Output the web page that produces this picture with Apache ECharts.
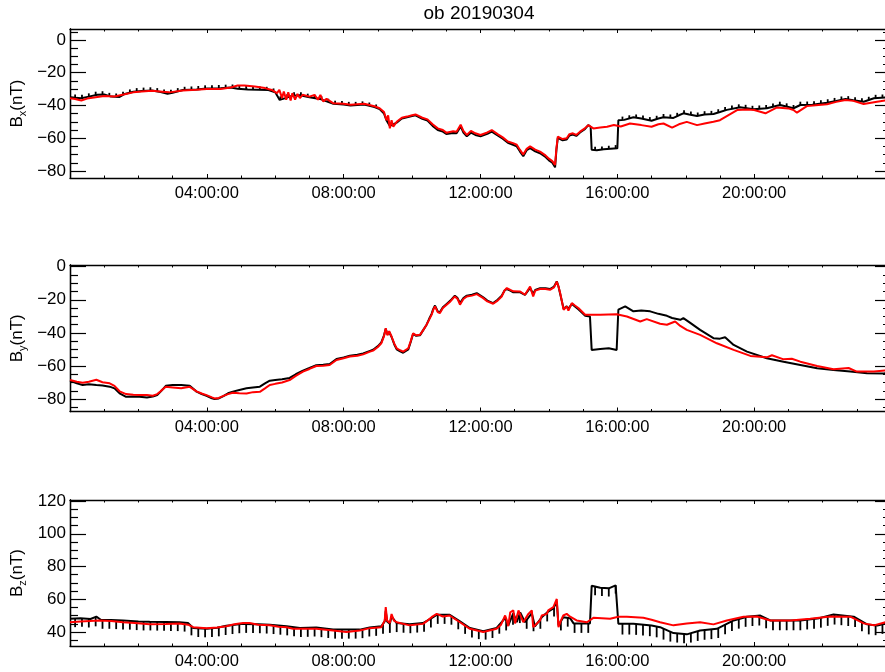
<!DOCTYPE html>
<html>
<head>
<meta charset="utf-8">
<script src="https://cdn.jsdelivr.net/npm/echarts@6/dist/echarts.min.js"></script>
<style>
html, body { margin: 0; padding: 0; background: #fff; }
#chart { width: 885px; height: 672px; }
</style>
</head>
<body>
<div id="chart"></div>
<script>
// Magnetic field components over one day (hour of day, nT)
const plotTitle = 'ob 20190304';

const bxTicks = [-80, -60, -40, -20, 0];
const byTicks = [-80, -60, -40, -20, 0];
const bzTicks = [40, 60, 80, 100, 120];
const hourTicks = [4, 8, 12, 16, 20];

const bxBlack = [[0,-35.0],[0.15,-35.3],[0.33,-35.6],[0.55,-34.6],[0.8,-33.4],[1.0,-33.3],[1.2,-34.6],[1.45,-34.8],[1.6,-33.0],[1.85,-31.6],[2.1,-31.2],[2.4,-30.8],[2.65,-31.8],[2.85,-32.8],[3.0,-32.2],[3.3,-30.6],[3.7,-30.2],[4.0,-29.6],[4.4,-29.5],[4.7,-29.0],[4.9,-29.8],[5.2,-30.2],[5.5,-30.4],[5.8,-30.6],[6.0,-32.0],[6.13,-36.6],[6.3,-35.5],[6.5,-34.0],[6.72,-33.8],[7.0,-35.0],[7.3,-36.0],[7.5,-37.5],[7.7,-39.0],[8.0,-39.4],[8.2,-40.0],[8.6,-39.4],[8.9,-41.0],[9.05,-42.2],[9.18,-45.0],[9.25,-49.0],[9.35,-52.5],[9.45,-51.5],[9.55,-50.5],[9.7,-48.0],[9.85,-47.2],[10.0,-46.5],[10.1,-46.0],[10.3,-48.2],[10.45,-49.2],[10.6,-52.5],[10.75,-55.0],[10.9,-56.0],[11.0,-57.4],[11.2,-56.8],[11.3,-57.0],[11.42,-52.8],[11.5,-56.5],[11.6,-58.8],[11.72,-56.6],[11.85,-58.0],[12.0,-58.8],[12.2,-57.3],[12.33,-56.0],[12.5,-58.3],[12.65,-60.3],[12.8,-62.8],[12.95,-64.0],[13.06,-65.0],[13.15,-68.0],[13.25,-71.0],[13.35,-67.3],[13.45,-66.0],[13.6,-68.0],[13.74,-69.2],[13.9,-71.5],[14.0,-73.5],[14.1,-75.0],[14.18,-77.8],[14.22,-67.0],[14.26,-59.8],[14.4,-61.3],[14.52,-60.8],[14.6,-58.3],[14.7,-57.8],[14.8,-58.6],[14.91,-56.5],[15.05,-54.5],[15.15,-52.0],[15.22,-53.0],[15.25,-67.0],[15.4,-67.4],[15.6,-66.8],[15.8,-66.5],[16.0,-66.2],[16.03,-49.0],[16.2,-48.8],[16.47,-47.2],[16.7,-48.0],[17.0,-49.3],[17.2,-48.0],[17.35,-47.2],[17.64,-47.6],[17.8,-46.0],[17.93,-44.8],[18.1,-45.5],[18.33,-46.4],[18.55,-45.5],[18.81,-45.2],[19.0,-44.0],[19.2,-42.7],[19.59,-41.1],[19.98,-42.3],[20.37,-41.7],[20.76,-39.7],[21.15,-41.7],[21.35,-39.7],[21.7,-39.5],[22.13,-38.3],[22.4,-37.2],[22.67,-36.0],[22.9,-36.8],[23.2,-37.7],[23.5,-35.6],[24,-35.0]];

// Short upward glitches on the black Bx trace: [hour, level, glitch high]
const bxGlitches = [[0.15,-35.3,-33.3],[0.35,-35.5,-33.5],[0.55,-34.6,-32.6],[0.75,-33.6,-31.6],[0.95,-33.3,-31.3],[1.15,-34.3,-32.3],[1.35,-34.7,-32.7],[1.55,-33.6,-31.6],[1.75,-32.2,-30.2],[1.95,-31.4,-29.4],[2.15,-31.1,-29.1],[2.35,-30.9,-28.9],[2.55,-31.4,-29.4],[2.75,-32.3,-30.3],[2.95,-32.4,-30.4],[3.15,-31.4,-29.4],[3.35,-30.6,-28.6],[3.55,-30.4,-28.4],[3.75,-30.1,-28.1],[3.95,-29.7,-27.7],[4.15,-29.6,-27.6],[4.35,-29.5,-27.5],[4.55,-29.3,-27.3],[4.75,-29.2,-27.2],[4.95,-29.9,-27.9],[5.15,-30.1,-28.1],[5.35,-30.3,-28.3],[5.55,-30.4,-28.4],[5.75,-30.6,-28.6],[5.95,-31.6,-29.6],[6.15,-36.4,-34.4],[6.35,-35.1,-33.1],[6.55,-34.0,-32.0],[6.75,-34.0,-32.0],[6.95,-34.8,-32.8],[7.15,-35.5,-33.5],[7.35,-36.3,-34.3],[7.55,-37.9,-35.9],[7.75,-39.1,-37.1],[7.95,-39.3,-37.3],[8.15,-39.8,-37.8],[8.35,-39.8,-37.8],[8.55,-39.5,-37.5],[8.75,-40.2,-38.2],[8.95,-41.4,-39.4],[15.35,-67.2,-65.2],[15.55,-67.0,-65.0],[15.75,-66.6,-64.6],[15.95,-66.2,-64.2],[16.15,-48.8,-46.8],[16.35,-48.0,-46.0],[16.55,-47.5,-45.5],[16.75,-48.2,-46.2],[16.95,-49.1,-47.1],[17.15,-48.3,-46.3],[17.35,-47.2,-45.2],[17.55,-47.5,-45.5],[17.75,-46.5,-44.5],[17.95,-44.9,-42.9],[18.15,-45.7,-43.7],[18.35,-46.3,-44.3],[18.55,-45.5,-43.5],[18.75,-45.3,-43.3],[18.95,-44.3,-42.3],[19.15,-43.0,-41.0],[19.35,-42.0,-40.0],[19.55,-41.3,-39.3],[19.75,-41.6,-39.6],[19.95,-42.2,-40.2],[20.15,-42.0,-40.0],[20.35,-41.7,-39.7],[20.55,-40.8,-38.8],[20.75,-39.7,-37.7],[20.95,-40.7,-38.7],[21.15,-41.7,-39.7],[21.35,-39.7,-37.7],[21.55,-39.6,-37.6],[21.75,-39.4,-37.4],[21.95,-38.8,-36.8],[22.15,-38.2,-36.2],[22.35,-37.4,-35.4],[22.55,-36.5,-34.5],[22.75,-36.3,-34.3],[22.95,-37.0,-35.0],[23.15,-37.6,-35.6],[23.35,-36.7,-34.7],[23.55,-35.5,-33.5],[23.75,-35.3,-33.3],[23.95,-35.0,-33.0]];

const bxRed = [[0,-35.6],[0.15,-36.0],[0.33,-37.0],[0.5,-35.8],[0.8,-34.8],[1.0,-34.2],[1.3,-34.5],[1.6,-33.2],[1.85,-32.0],[2.1,-31.5],[2.4,-31.0],[2.7,-31.6],[2.9,-32.0],[3.3,-30.8],[3.7,-30.4],[4.0,-30.0],[4.4,-30.0],[4.7,-29.0],[4.9,-27.8],[5.1,-27.8],[5.4,-28.4],[5.7,-29.4],[5.9,-30.5],[6.05,-32.5],[6.12,-30.5],[6.2,-35.5],[6.25,-31.5],[6.32,-36.5],[6.38,-32.0],[6.45,-37.0],[6.5,-32.5],[6.58,-36.5],[6.65,-33.0],[6.72,-35.5],[6.8,-33.5],[7.0,-34.6],[7.15,-33.5],[7.25,-36.5],[7.32,-33.5],[7.4,-37.5],[7.5,-36.0],[7.7,-38.7],[8.0,-39.0],[8.2,-39.6],[8.6,-38.9],[8.9,-40.5],[9.05,-41.7],[9.18,-44.0],[9.25,-49.0],[9.3,-46.0],[9.35,-54.0],[9.4,-49.0],[9.45,-53.0],[9.55,-50.0],[9.7,-47.5],[9.85,-46.8],[10.0,-46.0],[10.1,-45.5],[10.3,-47.5],[10.45,-48.5],[10.6,-51.5],[10.75,-54.0],[10.9,-55.0],[11.0,-56.6],[11.2,-55.8],[11.3,-56.0],[11.42,-51.8],[11.5,-55.5],[11.6,-58.0],[11.72,-55.5],[11.85,-57.0],[12.0,-58.0],[12.2,-56.5],[12.33,-55.0],[12.5,-57.5],[12.65,-59.5],[12.8,-62.0],[12.95,-63.0],[13.06,-64.0],[13.15,-67.0],[13.25,-70.0],[13.35,-66.5],[13.45,-65.0],[13.6,-67.0],[13.74,-68.2],[13.9,-70.5],[14.0,-72.5],[14.1,-74.0],[14.18,-76.3],[14.22,-66.0],[14.26,-59.0],[14.4,-60.5],[14.52,-60.0],[14.6,-57.5],[14.7,-57.0],[14.8,-58.0],[14.91,-56.0],[15.05,-54.0],[15.15,-52.0],[15.3,-54.0],[15.5,-53.5],[15.7,-53.0],[15.9,-51.9],[16.1,-52.8],[16.37,-51.0],[16.7,-52.0],[17.0,-53.0],[17.2,-51.5],[17.35,-51.0],[17.6,-53.5],[17.8,-51.5],[18.03,-50.0],[18.33,-52.0],[18.55,-51.0],[18.81,-50.0],[19.0,-49.0],[19.2,-46.5],[19.5,-42.8],[19.8,-42.5],[20.0,-42.8],[20.33,-44.8],[20.67,-41.2],[21.0,-41.8],[21.15,-42.8],[21.25,-44.4],[21.54,-40.4],[21.8,-39.8],[22.13,-39.2],[22.4,-37.8],[22.67,-36.6],[22.9,-37.2],[23.2,-39.1],[23.59,-37.7],[24,-36.5]];

const byBlack = [[0,-68.8],[0.2,-70.5],[0.37,-71.5],[0.55,-71.0],[0.77,-71.5],[0.95,-71.8],[1.16,-72.5],[1.3,-73.5],[1.45,-76.5],[1.64,-78.6],[1.85,-78.4],[2.03,-78.6],[2.25,-79.0],[2.42,-78.5],[2.55,-77.5],[2.65,-75.5],[2.8,-72.0],[3.0,-71.5],[3.25,-71.5],[3.5,-72.0],[3.7,-75.5],[3.85,-77.0],[3.99,-78.0],[4.15,-79.5],[4.23,-80.0],[4.35,-79.6],[4.47,-78.4],[4.62,-76.5],[4.76,-75.5],[4.95,-74.5],[5.16,-73.5],[5.35,-73.0],[5.55,-72.5],[5.7,-70.5],[5.84,-68.9],[6.0,-68.5],[6.2,-68.0],[6.42,-67.2],[6.6,-65.0],[6.81,-62.8],[7.0,-61.2],[7.2,-59.5],[7.4,-59.2],[7.59,-58.8],[7.79,-55.8],[8.0,-54.8],[8.18,-53.8],[8.4,-53.2],[8.57,-52.4],[8.75,-51.0],[8.86,-50.2],[9.0,-48.0],[9.1,-45.8],[9.18,-41.5],[9.23,-37.5],[9.28,-41.0],[9.33,-39.5],[9.4,-42.5],[9.48,-47.0],[9.55,-50.0],[9.65,-51.2],[9.74,-52.0],[9.89,-50.0],[9.96,-45.5],[10.03,-40.5],[10.12,-41.8],[10.23,-41.5],[10.32,-38.5],[10.42,-35.2],[10.5,-31.5],[10.57,-28.5],[10.62,-25.5],[10.67,-23.5],[10.75,-27.0],[10.81,-27.6],[10.9,-24.5],[11.01,-22.5],[11.12,-20.5],[11.25,-17.5],[11.33,-19.0],[11.4,-22.0],[11.5,-19.0],[11.6,-17.5],[11.75,-17.0],[11.89,-16.0],[12.08,-18.5],[12.2,-20.5],[12.37,-22.0],[12.5,-20.0],[12.62,-17.5],[12.7,-14.5],[12.77,-13.5],[12.87,-14.5],[12.96,-15.5],[13.16,-15.5],[13.3,-17.0],[13.45,-12.8],[13.54,-16.5],[13.6,-14.0],[13.74,-13.0],[13.9,-13.0],[14.03,-13.5],[14.15,-12.0],[14.23,-8.9],[14.28,-12.0],[14.33,-16.5],[14.43,-25.5],[14.52,-24.0],[14.57,-25.5],[14.67,-22.5],[14.76,-24.0],[14.86,-25.8],[15.06,-29.6],[15.2,-30.1],[15.23,-31.0],[15.25,-50.3],[15.5,-49.7],[15.75,-49.3],[15.98,-50.3],[16.03,-26.0],[16.23,-24.0],[16.47,-27.0],[16.7,-26.5],[16.96,-27.0],[17.2,-28.5],[17.45,-29.7],[17.6,-31.0],[17.84,-32.1],[17.93,-31.1],[18.1,-33.5],[18.42,-38.2],[18.81,-43.2],[19.0,-43.5],[19.15,-42.6],[19.4,-47.3],[19.79,-51.3],[20.37,-55.3],[20.86,-57.4],[21.35,-59.4],[21.84,-61.4],[22.32,-62.4],[22.81,-63.4],[23.3,-64.4],[23.79,-64.5],[24,-64.0]];

const byRed = [[0,-68.5],[0.2,-69.5],[0.37,-70.1],[0.55,-69.5],[0.77,-68.3],[0.95,-69.8],[1.16,-70.5],[1.3,-72.0],[1.45,-75.3],[1.64,-77.0],[1.85,-77.4],[2.03,-77.6],[2.25,-77.5],[2.42,-78.0],[2.55,-77.0],[2.65,-75.2],[2.8,-72.6],[3.0,-73.0],[3.25,-73.5],[3.5,-72.6],[3.7,-75.3],[3.85,-76.6],[3.99,-77.6],[4.15,-79.0],[4.23,-79.6],[4.35,-79.3],[4.47,-78.2],[4.62,-77.0],[4.76,-76.2],[4.95,-76.5],[5.16,-76.6],[5.35,-75.8],[5.55,-75.6],[5.7,-73.5],[5.84,-71.5],[6.0,-70.8],[6.2,-70.0],[6.42,-68.5],[6.6,-66.0],[6.81,-63.4],[7.0,-61.8],[7.2,-60.0],[7.4,-59.8],[7.59,-59.4],[7.79,-56.4],[8.0,-55.3],[8.18,-54.3],[8.4,-53.8],[8.57,-53.0],[8.75,-51.5],[8.86,-50.7],[9.0,-48.5],[9.1,-46.3],[9.18,-42.0],[9.23,-37.2],[9.28,-41.5],[9.33,-39.0],[9.4,-42.2],[9.48,-46.5],[9.55,-49.3],[9.65,-50.5],[9.74,-51.3],[9.89,-49.3],[9.96,-45.0],[10.03,-40.2],[10.12,-41.5],[10.23,-41.2],[10.32,-38.5],[10.42,-35.2],[10.5,-32.0],[10.57,-29.1],[10.62,-26.0],[10.67,-24.0],[10.75,-27.5],[10.81,-28.1],[10.9,-25.0],[11.01,-23.0],[11.12,-21.0],[11.25,-18.0],[11.33,-19.5],[11.4,-23.0],[11.5,-19.5],[11.6,-18.0],[11.75,-17.5],[11.89,-16.6],[12.08,-19.0],[12.2,-21.0],[12.37,-22.4],[12.5,-20.5],[12.62,-18.0],[12.7,-14.5],[12.77,-12.9],[12.87,-14.0],[12.96,-14.9],[13.16,-15.0],[13.3,-17.0],[13.45,-12.0],[13.54,-18.0],[13.6,-14.5],[13.74,-13.5],[13.9,-13.5],[14.03,-14.0],[14.15,-12.5],[14.23,-9.0],[14.28,-12.0],[14.33,-16.0],[14.43,-26.0],[14.52,-24.0],[14.57,-26.5],[14.67,-22.0],[14.76,-23.5],[14.86,-25.0],[15.06,-29.1],[15.2,-29.1],[15.5,-29.1],[15.98,-28.7],[16.28,-30.1],[16.67,-33.1],[16.86,-31.7],[17.25,-34.5],[17.45,-35.1],[17.69,-33.1],[17.84,-35.8],[18.03,-38.2],[18.42,-41.2],[18.91,-46.3],[19.4,-50.3],[19.89,-53.9],[20.37,-54.8],[20.52,-53.5],[20.86,-56.0],[21.1,-55.6],[21.35,-57.4],[21.84,-60.0],[22.32,-62.0],[22.76,-61.2],[23.0,-63.4],[23.5,-63.4],[24,-62.3]];

const bzBlack = [[0,48.1],[0.3,48.5],[0.6,48.0],[0.77,49.4],[0.9,47.5],[1.2,47.3],[1.55,47.0],[2.0,46.5],[2.33,46.3],[2.8,46.2],[3.2,46.0],[3.45,45.5],[3.6,42.5],[4.0,42.0],[4.3,42.6],[4.57,43.8],[5.06,45.0],[5.5,44.8],[5.84,44.5],[6.33,43.5],[6.72,42.5],[7.2,42.8],[7.69,41.5],[8.08,41.5],[8.47,41.5],[8.76,42.8],[9.1,43.5],[9.2,46.5],[9.23,53.0],[9.27,46.5],[9.35,45.0],[9.4,49.5],[9.55,45.5],[9.93,44.8],[10.32,45.5],[10.57,48.5],[10.72,50.5],[11.1,50.5],[11.4,46.5],[11.69,42.5],[12.08,40.5],[12.47,42.5],[12.72,48.5],[12.81,44.0],[12.96,51.5],[13.06,46.0],[13.16,52.0],[13.3,46.0],[13.5,51.5],[13.59,43.5],[13.79,49.0],[13.98,52.5],[14.13,54.5],[14.23,58.5],[14.28,44.0],[14.42,49.0],[14.62,48.5],[14.72,45.3],[15.2,45.3],[15.23,46.0],[15.25,68.3],[15.5,67.0],[15.75,66.7],[15.95,68.5],[16.0,68.9],[16.03,45.1],[16.47,45.1],[17.0,44.0],[17.25,43.0],[17.64,39.4],[18.03,38.6],[18.42,41.0],[18.91,42.0],[19.4,47.1],[19.79,49.4],[20.18,50.1],[20.47,47.1],[21.35,47.1],[21.9,48.5],[22.32,50.7],[22.91,49.4],[23.3,44.7],[23.6,44.0],[24,46.0]];

// Short downward glitches on the black Bz trace: [hour, level, glitch low]
const bzGlitches = [[0.15,48.3,43.0],[0.35,48.5,43.2],[0.55,48.1,42.8],[0.75,49.2,43.5],[0.95,47.5,42.0],[1.15,47.3,42.0],[1.35,47.2,41.8],[1.55,47.0,41.6],[1.75,46.8,41.5],[1.95,46.5,41.2],[2.15,46.4,41.0],[2.35,46.3,41.0],[2.55,46.3,40.9],[2.75,46.2,40.8],[2.95,46.1,40.7],[3.15,46.0,40.6],[3.35,45.7,40.3],[3.55,43.5,38.0],[3.75,42.3,37.0],[3.95,42.0,36.8],[4.15,42.3,37.0],[4.35,42.8,37.4],[4.55,43.7,38.2],[4.75,44.3,38.8],[4.95,44.8,39.3],[5.15,45.0,39.5],[5.35,44.9,39.4],[5.55,44.8,39.3],[5.75,44.6,39.1],[5.95,44.3,38.8],[6.15,43.9,38.4],[6.35,43.5,38.0],[6.55,43.0,37.5],[6.75,42.5,37.0],[6.95,42.6,37.1],[7.15,42.8,37.3],[7.35,42.4,36.9],[7.55,41.9,36.4],[7.75,41.5,36.0],[7.95,41.5,36.0],[8.15,41.5,36.0],[8.35,41.5,36.0],[8.55,41.8,36.3],[8.75,42.8,37.3],[8.95,43.2,37.7],[9.15,44.5,39.0],[9.35,45.0,39.5],[9.55,45.5,40.0],[9.75,45.1,39.6],[9.95,44.8,39.3],[10.15,45.2,39.7],[10.35,45.7,40.2],[10.55,48.3,42.8],[10.75,50.5,45.0],[10.95,50.5,45.0],[11.15,50.0,44.5],[11.35,47.2,41.7],[11.55,44.4,38.9],[11.75,42.2,36.7],[11.95,41.2,35.7],[12.15,40.9,35.4],[12.35,41.9,36.4],[12.55,44.5,39.0],[12.75,46.5,41.0],[12.95,50.0,44.5],[13.15,51.0,45.5],[13.35,47.5,42.0],[13.55,46.0,40.5],[13.75,47.5,42.0],[13.95,52.0,46.5],[14.15,55.0,49.5],[14.35,46.5,41.0],[14.55,48.8,43.3],[14.75,45.3,39.5],[14.95,45.3,39.5],[15.15,45.3,39.5],[15.35,67.5,62.5],[15.55,67.0,62.0],[15.75,66.7,61.7],[15.95,68.5,63.5],[16.15,45.1,38.5],[16.35,45.1,38.5],[16.55,44.9,38.3],[16.75,44.5,37.9],[16.95,44.1,37.5],[17.15,43.4,36.8],[17.35,42.0,35.4],[17.55,40.2,34.2],[17.75,39.2,33.6],[17.95,38.8,33.2],[18.15,39.4,33.6],[18.35,40.6,34.6],[18.55,41.3,35.3],[18.75,41.7,35.7],[18.95,42.4,36.4],[19.15,44.7,38.7],[19.35,46.6,40.6],[19.55,48.1,42.1],[19.75,49.2,43.2],[19.95,49.7,43.7],[20.15,50.0,44.0],[20.35,48.3,42.3],[20.55,47.1,41.1],[20.75,47.1,41.1],[20.95,47.1,41.1],[21.15,47.1,41.1],[21.35,47.1,41.1],[21.55,47.6,41.6],[21.75,48.1,42.1],[21.95,48.7,42.7],[22.15,49.8,43.8],[22.35,50.6,44.6],[22.55,50.2,44.2],[22.75,49.7,43.7],[22.95,49.1,43.1],[23.15,46.5,40.5],[23.35,44.6,38.6],[23.55,44.1,38.1],[23.75,44.9,38.9],[23.95,45.8,39.8]];

const bzRed = [[0,46.0],[0.3,46.5],[0.86,47.1],[1.2,46.8],[1.55,46.0],[1.9,45.5],[2.33,44.7],[2.8,45.0],[3.2,45.3],[3.45,44.5],[3.6,43.0],[3.99,42.4],[4.3,42.8],[4.57,43.6],[4.8,44.8],[5.06,45.5],[5.25,45.5],[5.5,44.5],[5.84,44.1],[6.1,43.2],[6.33,43.0],[6.52,42.0],[6.72,42.0],[7.2,42.0],[7.69,41.0],[8.08,40.0],[8.47,41.0],[8.76,42.4],[9.1,43.0],[9.2,47.0],[9.23,55.2],[9.27,47.0],[9.3,48.1],[9.35,45.5],[9.4,51.0],[9.47,47.0],[9.55,46.0],[9.93,44.1],[10.32,45.0],[10.45,47.0],[10.57,49.1],[10.72,51.1],[10.9,49.5],[11.1,50.1],[11.25,48.0],[11.4,46.0],[11.69,42.0],[12.08,40.0],[12.47,42.0],[12.6,44.5],[12.72,50.1],[12.77,47.1],[12.81,43.6],[12.87,52.1],[12.96,53.2],[13.01,45.3],[13.06,46.0],[13.11,53.2],[13.16,53.6],[13.25,46.0],[13.3,46.0],[13.4,51.1],[13.5,53.2],[13.54,43.0],[13.59,43.0],[13.74,47.1],[13.79,50.1],[13.94,51.1],[13.98,53.2],[14.13,55.2],[14.23,60.2],[14.28,43.0],[14.35,47.0],[14.42,50.1],[14.52,51.1],[14.62,49.4],[14.81,47.1],[15.11,46.0],[15.3,48.7],[15.79,48.1],[16.03,49.4],[16.28,49.4],[16.76,48.7],[17.0,47.5],[17.25,46.0],[17.64,44.1],[18.03,45.3],[18.42,46.0],[18.81,44.7],[19.2,47.1],[19.69,49.4],[20.08,49.5],[20.47,47.1],[21.06,47.1],[21.64,48.1],[22.23,49.5],[22.81,49.4],[23.2,45.3],[23.5,44.1],[23.84,46.0],[24,46.0]];

const FONT = '"Liberation Sans", Arial, Helvetica, sans-serif';
const INK = '#000';

const panels = [
  { sub: 'x', black: bxBlack, red: bxRed, ticks: bxTicks, min: -84.3, max: 6.7, top: 29, height: 149, glitches: bxGlitches },
  { sub: 'y', black: byBlack, red: byRed, ticks: byTicks, min: -87.5, max: 1.0, top: 265, height: 146.5 },
  { sub: 'z', black: bzBlack, red: bzRed, ticks: bzTicks, min: 31.5, max: 120.6, top: 500, height: 146, glitches: bzGlitches }
];

function minorValues(ticks, min, max) {
  const step = (ticks[1] - ticks[0]) / 4;
  const out = [];
  for (let v = Math.ceil(min / step) * step; v <= max; v += step) {
    if (ticks.indexOf(v) < 0) out.push(v);
  }
  return out;
}

const hourLabel = v => (v < 10 ? '0' : '') + v + ':00:00';
const numLabel = v => String(v).replace('-', '\u2212');

const grids = [], xAxes = [], yAxes = [], series = [];

panels.forEach((p, g) => {
  grids.push({ left: 70, width: 821, top: p.top, height: p.height, outerBoundsMode: 'none', containLabel: false });

  const xBase = {
    type: 'value', gridIndex: g, min: 0, max: 24, interval: 4,
    axisLine: { show: true, onZero: false, lineStyle: { color: INK, width: 1.3 } },
    axisTick: { show: true, inside: true, length: 4, lineStyle: { color: INK, width: 1 } },
    minorTick: { show: true, splitNumber: 4, length: 2.5, lineStyle: { color: INK, width: 1 } },
    splitLine: { show: false }, minorSplitLine: { show: false }
  };
  xAxes.push(Object.assign({}, xBase, {
    position: 'bottom',
    axisLabel: {
      show: true, margin: 7, color: INK, fontFamily: FONT, fontSize: 16.5,
      showMinLabel: false, showMaxLabel: false,
      formatter: v => hourTicks.indexOf(v) >= 0 ? hourLabel(v) : ''
    }
  }));
  xAxes.push(Object.assign({}, xBase, { position: 'top', axisLabel: { show: false } }));

  const minors = minorValues(p.ticks, p.min, p.max);
  const yBase = {
    type: 'value', gridIndex: g, min: p.min, max: p.max,
    axisLine: { show: true, onZero: false, lineStyle: { color: INK, width: 1.3 } },
    splitLine: { show: false }
  };
  yAxes.push(Object.assign({}, yBase, {
    position: 'left',
    axisTick: { show: true, inside: true, length: 16, customValues: p.ticks, lineStyle: { color: INK, width: 1.2 } },
    axisLabel: { show: true, customValues: p.ticks, margin: 4, color: INK, fontFamily: FONT, fontSize: 17, formatter: numLabel },
    name: '{b|B}{s|' + p.sub + '}{b|(nT)}',
    nameLocation: 'middle', nameRotate: 90, nameGap: 42, nameMoveOverlap: false,
    nameTextStyle: {
      color: INK, fontFamily: FONT, fontSize: 17,
      rich: {
        b: { fontFamily: FONT, fontSize: 17, color: INK },
        s: { fontFamily: FONT, fontSize: 11, color: INK, padding: [10, 0, 0, 0], verticalAlign: 'bottom' }
      }
    }
  }));
  yAxes.push(Object.assign({}, yBase, {
    position: 'left',
    axisTick: { show: true, inside: true, length: 8, customValues: minors, lineStyle: { color: INK, width: 1.2 } },
    axisLabel: { show: false }
  }));
  yAxes.push(Object.assign({}, yBase, {
    position: 'right',
    axisTick: { show: true, inside: true, length: 16, customValues: p.ticks, lineStyle: { color: INK, width: 1.2 } },
    axisLabel: { show: false }
  }));
  yAxes.push(Object.assign({}, yBase, {
    position: 'right',
    axisTick: { show: true, inside: true, length: 8, customValues: minors, lineStyle: { color: INK, width: 1.2 } },
    axisLabel: { show: false }
  }));

  series.push({
    type: 'line', xAxisIndex: 2 * g, yAxisIndex: 4 * g, data: p.black,
    showSymbol: false, symbol: 'none', lineStyle: { color: '#000', width: 2 }, clip: true, z: 2
  });
  if (p.glitches) {
    series.push({
      type: 'custom', xAxisIndex: 2 * g, yAxisIndex: 4 * g, data: p.glitches,
      encode: { x: 0, y: [1, 2] }, clip: true, z: 2,
      renderItem: (params, api) => {
        const a = api.coord([api.value(0), api.value(1)]);
        const b = api.coord([api.value(0), api.value(2)]);
        return {
          type: 'line',
          shape: { x1: a[0], y1: a[1], x2: b[0], y2: b[1] },
          style: { stroke: '#000', lineWidth: 1.8 }
        };
      }
    });
  }
  series.push({
    type: 'line', xAxisIndex: 2 * g, yAxisIndex: 4 * g, data: p.red,
    showSymbol: false, symbol: 'none', lineStyle: { color: '#ff0000', width: 2 }, clip: true, z: 3
  });
});

const chart = echarts.init(document.getElementById('chart'), null, { renderer: 'canvas' });
chart.setOption({
  animation: false,
  backgroundColor: '#fff',
  grid: grids,
  xAxis: xAxes,
  yAxis: yAxes,
  series: series,
  graphic: [{
    type: 'text', x: 479, y: 4,
    style: { text: plotTitle, fill: INK, font: '19px ' + FONT, textAlign: 'center', textVerticalAlign: 'top' }
  }]
});
</script>
</body>
</html>
